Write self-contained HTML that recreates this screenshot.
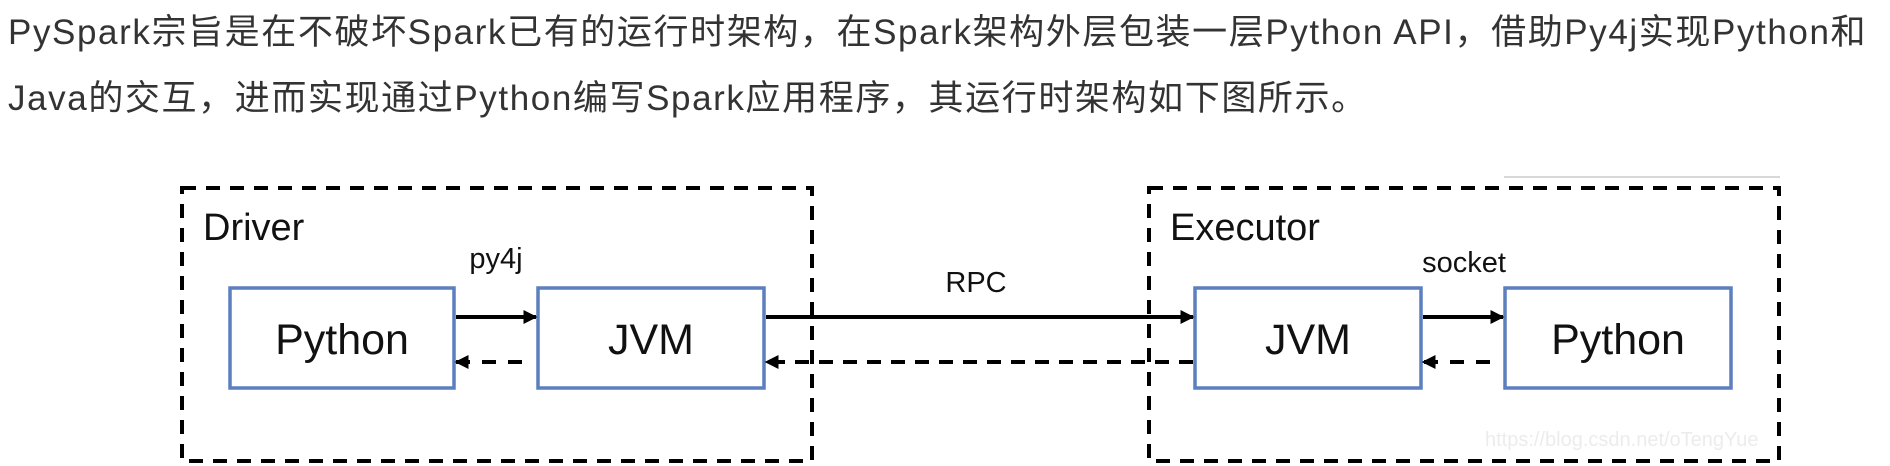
<!DOCTYPE html>
<html><head><meta charset="utf-8"><style>
html,body{margin:0;padding:0;background:#fff;width:1890px;height:466px;overflow:hidden;}
.t{position:absolute;left:8px;font-family:"Liberation Sans","Noto Sans CJK SC",sans-serif;font-size:35px;color:#333;white-space:nowrap;letter-spacing:1.6px;}
</style></head><body>
<div class="t" style="top:4px;">PySpark宗旨是在不破坏Spark已有的运行时架构，在Spark架构外层包装一层Python API，借助Py4j实现Python和</div>
<div class="t" style="top:70px;">Java的交互，进而实现通过Python编写Spark应用程序，其运行时架构如下图所示。</div>
<svg width="1890" height="466" style="position:absolute;left:0;top:0" font-family="Liberation Sans, DejaVu Sans, sans-serif">
<defs>
<marker id="b" viewBox="0 0 10 10" markerWidth="14" markerHeight="14" refX="9" refY="5" orient="auto" markerUnits="userSpaceOnUse"><path d="M0,0 L10,5 L0,10 z" fill="#000"/></marker>
</defs>
<line x1="1504" y1="177" x2="1780" y2="177" stroke="#ccc" stroke-width="1.5"/>
<rect x="182" y="188" width="630" height="273" fill="none" stroke="#000" stroke-width="4" stroke-dasharray="14,10"/>
<rect x="1149" y="188" width="630" height="273" fill="none" stroke="#000" stroke-width="4" stroke-dasharray="14,10"/>
<text x="203" y="240" font-size="38" fill="#111">Driver</text>
<text x="1170" y="240" font-size="38" fill="#111">Executor</text>
<g fill="#fff" stroke="#5b7fbf" stroke-width="3.5">
<rect x="230" y="288" width="224" height="100"/>
<rect x="538" y="288" width="226" height="100"/>
<rect x="1195" y="288" width="226" height="100"/>
<rect x="1505" y="288" width="226" height="100"/>
</g>
<g font-size="43" fill="#111" text-anchor="middle">
<text x="342" y="354">Python</text>
<text x="651" y="354">JVM</text>
<text x="1308" y="354">JVM</text>
<text x="1618" y="354">Python</text>
</g>
<g font-size="29" fill="#111" text-anchor="middle">
<text x="496" y="268">py4j</text>
<text x="976" y="292">RPC</text>
<text x="1464" y="272">socket</text>
</g>
<g stroke="#000" stroke-width="4">
<line x1="456" y1="317" x2="536" y2="317" marker-end="url(#b)"/>
<line x1="766" y1="317" x2="1193" y2="317" marker-end="url(#b)"/>
<line x1="1423" y1="317" x2="1503" y2="317" marker-end="url(#b)"/>
<line x1="522" y1="362" x2="456" y2="362" stroke-dasharray="14,12" marker-end="url(#b)"/>
<line x1="1193" y1="362" x2="766" y2="362" stroke-dasharray="14,10" marker-end="url(#b)"/>
<line x1="1490" y1="362" x2="1423" y2="362" stroke-dasharray="14,12" marker-end="url(#b)"/>
</g>
<text x="1485" y="446" font-size="20" fill="#ececec">https://blog.csdn.net/oTengYue</text>
</svg>
</body></html>
